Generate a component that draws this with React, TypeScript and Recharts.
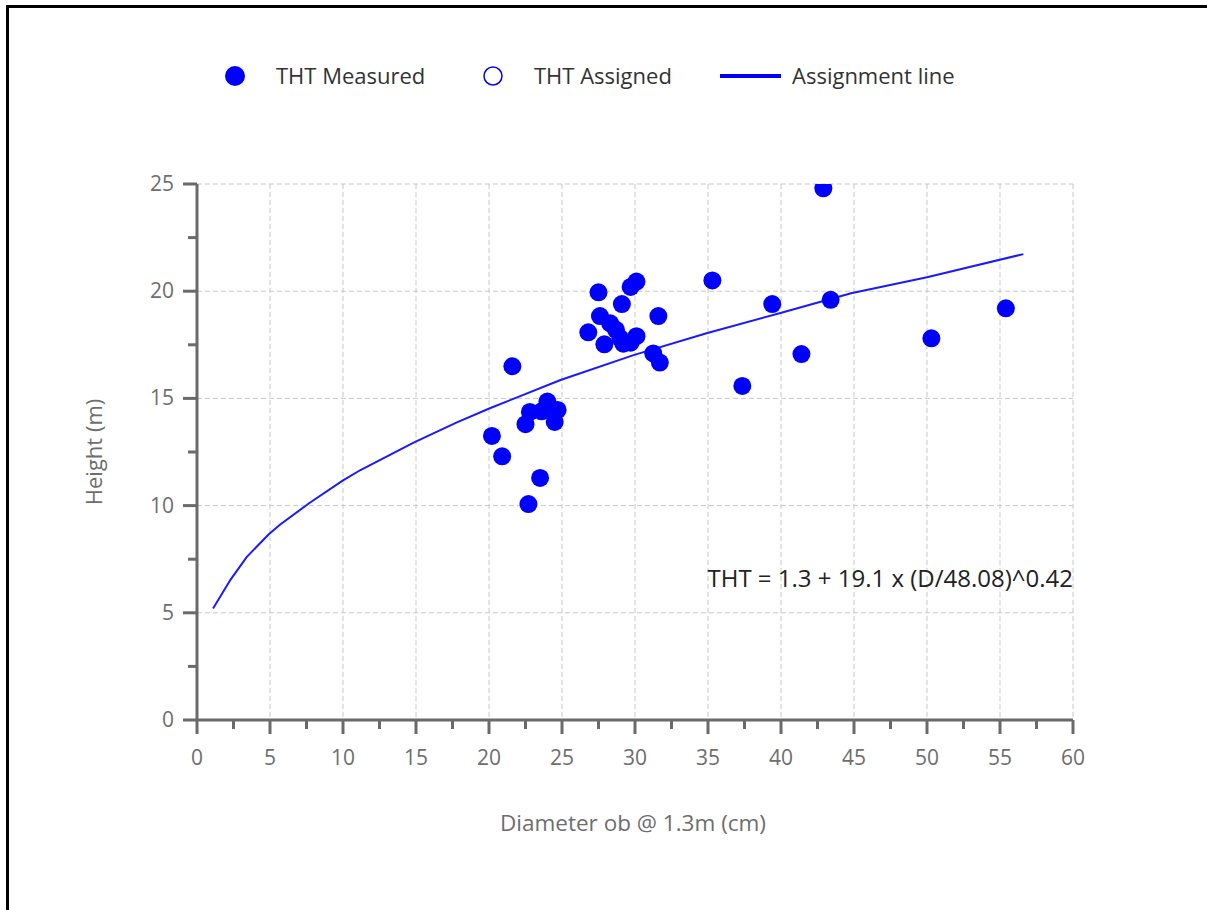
import React from "react";
import {
  ScatterChart,
  Scatter,
  XAxis,
  YAxis,
  CartesianGrid,
  ReferenceDot,
} from "recharts";

// measured trees
const MEASURED_D = [
  20.2, 20.9, 21.6, 22.5, 22.7, 22.8, 23.5, 23.6, 24.0, 24.5, 24.7, 26.8, 27.5,
  27.6, 27.9, 28.3, 28.7, 29.0, 29.2, 29.1, 29.7, 29.7, 30.1, 30.1, 31.25, 31.6,
  31.7, 35.3, 37.35, 39.4, 41.4, 42.9, 43.4, 50.3, 55.4,
];
const MEASURED_H = [
  13.25, 12.3, 16.5, 13.8, 10.07, 14.37, 11.29, 14.4, 14.85, 13.9, 14.46, 18.08,
  19.95, 18.84, 17.52, 18.5, 18.2, 17.8, 17.55, 19.4, 17.6, 20.2, 20.45, 17.9,
  17.1, 18.84, 16.67, 20.5, 15.58, 19.4, 17.07, 24.8, 19.6, 17.8, 19.2,
];

// assignment line
const LINE_D = [
  1.1, 2.3, 3.4, 4.9, 5.7, 7.7, 10.0, 11.2, 14.8, 17.8, 20.1, 24.9, 29.9, 34.9,
  39.9, 44.8, 50.0, 56.6,
];
const LINE_H = [
  5.2, 6.55, 7.6, 8.65, 9.12, 10.12, 11.18, 11.66, 12.93, 13.88, 14.55, 15.86,
  17.02, 18.04, 18.97, 19.9, 20.65, 21.73,
];

const X_TICKS = [0, 5, 10, 15, 20, 25, 30, 35, 40, 45, 50, 55, 60];
const X_MINOR = [2.5, 7.5, 12.5, 17.5, 22.5, 27.5, 32.5, 37.5, 42.5, 47.5, 52.5, 57.5];
const Y_TICKS = [0, 5, 10, 15, 20, 25];
const Y_MINOR = [2.5, 7.5, 12.5, 17.5, 22.5];

const SERIES_NAMES = ["THT Measured", "THT Assigned", "Assignment line"];
const EQUATION = "THT = 1.3 + 19.1 x (D/48.08)^0.42";
const X_TITLE = "Diameter ob @ 1.3m (cm)";
const Y_TITLE = "Height (m)";

const measured = MEASURED_D.map((d, i) => ({ d, h: MEASURED_H[i] }));
const lineData = LINE_D.map((d, i) => ({ d, h: LINE_H[i] }));

const BLUE = "#0000ff";
const AXIS = "#6a6a6a";
const LABEL = "#6e6e6e";
const FONT = '"Open Sans", "Noto Sans", sans-serif';

const W = 1207;
const H = 910;
const Y_W = 60;
const X_H = 60;
const MARGIN = { top: 184, right: 134, bottom: 130, left: 137 };
const PLOT_LEFT = MARGIN.left + Y_W;
const PLOT_BOTTOM = H - MARGIN.bottom - X_H;

const YTick = (props: any) => {
  const { y, payload } = props;
  const major = Y_TICKS.includes(payload.value);
  return (
    <g>
      <line x1={PLOT_LEFT - (major ? 14 : 9)} x2={PLOT_LEFT} y1={y} y2={y} stroke={AXIS} strokeWidth={3} />
      {major && (
        <text x={174} y={y + 7} textAnchor="end" fill={LABEL} fontSize={21} fontFamily={FONT}>
          {payload.value}
        </text>
      )}
    </g>
  );
};

const XTick = (props: any) => {
  const { x, payload } = props;
  const major = X_TICKS.includes(payload.value);
  return (
    <g>
      <line x1={x} x2={x} y1={PLOT_BOTTOM} y2={PLOT_BOTTOM + (major ? 14 : 9)} stroke={AXIS} strokeWidth={3} />
      {major && (
        <text x={x} y={PLOT_BOTTOM + 45} textAnchor="middle" fill={LABEL} fontSize={21} fontFamily={FONT}>
          {payload.value}
        </text>
      )}
    </g>
  );
};

const Dot = (props: any) => <circle cx={props.cx} cy={props.cy} r={9} fill={BLUE} />;

function Legend() {
  const text = { fontSize: 22, fontFamily: FONT, fill: "#333" };
  return (
    <svg width={W} height={120} style={{ position: "absolute", left: 0, top: 0 }}>
      <circle cx={235} cy={76} r={10} fill={BLUE} />
      <text x={276} y={84} {...text}>{SERIES_NAMES[0]}</text>
      <circle cx={493} cy={76} r={9} fill="none" stroke={BLUE} strokeWidth={1.5} />
      <text x={534} y={84} {...text}>{SERIES_NAMES[1]}</text>
      <line x1={720} x2={781} y1={76} y2={76} stroke={BLUE} strokeWidth={4} />
      <text x={792} y={84} {...text}>{SERIES_NAMES[2]}</text>
    </svg>
  );
}

export default function App() {
  return (
    <div style={{ position: "absolute", left: 0, top: 0, width: W, height: H, background: "#fff" }}>
      <div
        style={{
          position: "absolute",
          left: 6,
          top: 5,
          right: 0,
          bottom: 0,
          borderTop: "3px solid #000",
          borderLeft: "3px solid #000",
        }}
      />
      <ScatterChart width={W} height={H} margin={MARGIN} style={{ position: "absolute", left: 0, top: 0 }}>
        <CartesianGrid
          stroke="#c8c8c8"
          strokeDasharray="5 3"
          horizontalValues={Y_TICKS}
          verticalValues={X_TICKS}
        />
        <XAxis
          type="number"
          dataKey="d"
          domain={[0, 60]}
          ticks={[...X_TICKS, ...X_MINOR].sort((a, b) => a - b)}
          interval={0}
          height={X_H}
          tickLine={false}
          tick={XTick}
          axisLine={{ stroke: AXIS, strokeWidth: 3 }}
          allowDataOverflow
          label={() => (
            <text x={633} y={831} textAnchor="middle" fill={LABEL} fontSize={22.5} fontFamily={FONT}>
              {X_TITLE}
            </text>
          )}
        />
        <YAxis
          type="number"
          dataKey="h"
          domain={[0, 25]}
          ticks={[...Y_TICKS, ...Y_MINOR].sort((a, b) => a - b)}
          interval={0}
          width={Y_W}
          tickLine={false}
          tick={YTick}
          axisLine={{ stroke: AXIS, strokeWidth: 3 }}
          allowDataOverflow
          label={() => (
            <text
              x={102}
              y={452}
              transform="rotate(-90 102 452)"
              textAnchor="middle"
              fill={LABEL}
              fontSize={22}
              fontFamily={FONT}
            >
              {Y_TITLE}
            </text>
          )}
        />
        <Scatter
          name={SERIES_NAMES[2]}
          data={lineData}
          line={{ stroke: "#1a1aff", strokeWidth: 2 }}
          lineType="joint"
          shape={() => <g />}
          isAnimationActive={false}
        />
        <Scatter name={SERIES_NAMES[1]} data={[]} isAnimationActive={false} />
        <Scatter name={SERIES_NAMES[0]} data={measured} shape={Dot} isAnimationActive={false} />
        <ReferenceDot
          x={60}
          y={6.6}
          r={0}
          fill="none"
          stroke="none"
          label={{ value: EQUATION, position: "left", offset: 0, fill: "#222", fontSize: 24, fontFamily: FONT }}
        />
      </ScatterChart>
      <Legend />
    </div>
  );
}
